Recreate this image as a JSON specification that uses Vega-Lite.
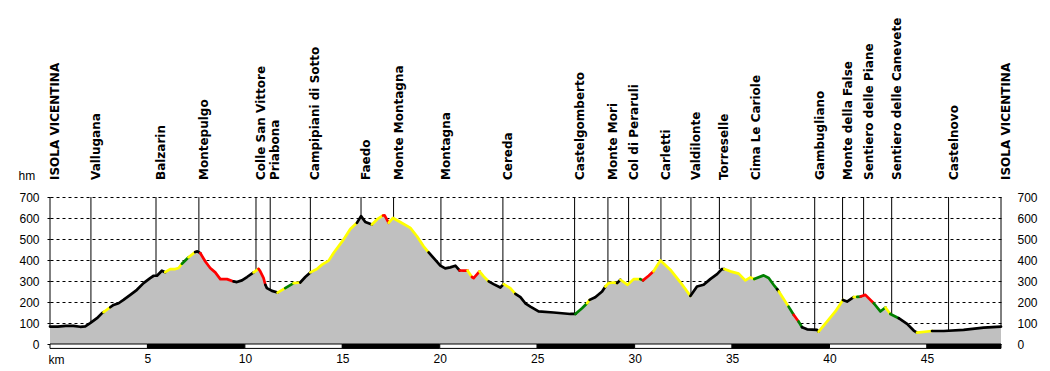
{
"$schema": "https://vega.github.io/schema/vega-lite/v6.json",
"width": 951, "height": 147,
"autosize": {"type": "none"},
"padding": {"left": 50, "top": 197, "right": 49, "bottom": 27},
"background": "white",
"config": {
 "view": {"stroke": null},
 "axisX": {"ticks": false, "domain": false, "grid": false, "labelPadding": 9, "labelFont": "Liberation Sans", "labelFontSize": 12, "labelColor": "black", "titleX": -2, "titleY": 19, "titleAlign": "left", "titleBaseline": "alphabetic", "titleFont": "Liberation Sans", "titleFontSize": 12, "titleFontWeight": "normal", "titleColor": "black"},
 "axisLeft": {"grid": true, "gridDash": [3, 3], "gridColor": "black", "gridOpacity": 1, "gridWidth": 1, "ticks": true, "tickDash": [3, 3], "tickSize": 5, "tickColor": "black", "labelPadding": 6, "labelOverlap": false, "domain": false, "labelFont": "Liberation Sans", "labelFontSize": 12, "labelColor": "black", "titleAngle": 0, "titleX": -32, "titleY": -22, "titleAlign": "left", "titleBaseline": "middle", "titleFont": "Liberation Sans", "titleFontSize": 12, "titleFontWeight": "normal", "titleColor": "black", "zindex": 1},
 "axisRight": {"grid": false, "ticks": false, "tickSize": 0, "domain": false, "labelPadding": 16, "labelOverlap": false, "labelAlign": "left", "labelFont": "Liberation Sans", "labelFontSize": 12, "labelColor": "black"}
},
"datasets": {
 "pts": [
  {"d":0,"h":83,"s":1,"c":"k"},{"d":0.4,"h":83,"s":1,"c":"k"},{"d":0.8,"h":86,"s":1,"c":"k"},{"d":1.2,"h":86,"s":1,"c":"k"},{"d":1.55,"h":82,"s":1,"c":"k"},{"d":1.81,"h":84,"s":1,"c":"k"},{"d":2.06,"h":99,"s":1,"c":"k"},{"d":2.41,"h":123,"s":1,"c":"k"},{"d":2.67,"h":147,"s":1,"c":"k"},{"d":2.75,"h":152,"s":1,"c":"k"},
  {"d":2.75,"h":152,"s":2,"c":"y"},{"d":3.09,"h":175,"s":2,"c":"y"},
  {"d":3.09,"h":175,"s":3,"c":"k"},{"d":3.26,"h":186,"s":3,"c":"k"},{"d":3.52,"h":194,"s":3,"c":"k"},{"d":3.77,"h":210,"s":3,"c":"k"},{"d":4.12,"h":234,"s":3,"c":"k"},{"d":4.46,"h":258,"s":3,"c":"k"},{"d":4.8,"h":290,"s":3,"c":"k"},{"d":5.14,"h":314,"s":3,"c":"k"},{"d":5.32,"h":325,"s":3,"c":"k"},{"d":5.49,"h":325,"s":3,"c":"k"},{"d":5.74,"h":349,"s":3,"c":"k"},{"d":5.91,"h":342,"s":3,"c":"k"},
  {"d":5.91,"h":342,"s":4,"c":"y"},{"d":6.17,"h":357,"s":4,"c":"y"},{"d":6.43,"h":357,"s":4,"c":"y"},{"d":6.6,"h":362,"s":4,"c":"y"},{"d":6.77,"h":382,"s":4,"c":"y"},
  {"d":6.77,"h":382,"s":5,"c":"g"},{"d":7.11,"h":413,"s":5,"c":"g"},
  {"d":7.11,"h":413,"s":6,"c":"y"},{"d":7.45,"h":438,"s":6,"c":"y"},
  {"d":7.45,"h":438,"s":7,"c":"k"},{"d":7.56,"h":441,"s":7,"c":"k"},{"d":7.71,"h":433,"s":7,"c":"k"},
  {"d":7.71,"h":433,"s":8,"c":"r"},{"d":7.97,"h":393,"s":8,"c":"r"},{"d":8.22,"h":362,"s":8,"c":"r"},{"d":8.48,"h":341,"s":8,"c":"r"},{"d":8.74,"h":309,"s":8,"c":"r"},{"d":9.08,"h":309,"s":8,"c":"r"},{"d":9.42,"h":298,"s":8,"c":"r"},
  {"d":9.42,"h":298,"s":9,"c":"k"},{"d":9.59,"h":295,"s":9,"c":"k"},{"d":9.85,"h":303,"s":9,"c":"k"},{"d":10.11,"h":319,"s":9,"c":"k"},{"d":10.45,"h":341,"s":9,"c":"k"},
  {"d":10.45,"h":341,"s":10,"c":"y"},{"d":10.7,"h":358,"s":10,"c":"y"},
  {"d":10.7,"h":358,"s":11,"c":"r"},{"d":10.79,"h":346,"s":11,"c":"r"},{"d":10.96,"h":314,"s":11,"c":"r"},{"d":11.05,"h":282,"s":11,"c":"r"},
  {"d":11.05,"h":282,"s":12,"c":"k"},{"d":11.13,"h":266,"s":12,"c":"k"},{"d":11.39,"h":253,"s":12,"c":"k"},{"d":11.68,"h":245,"s":12,"c":"k"},
  {"d":11.68,"h":245,"s":13,"c":"y"},{"d":12.07,"h":266,"s":13,"c":"y"},
  {"d":12.07,"h":266,"s":14,"c":"g"},{"d":12.5,"h":290,"s":14,"c":"g"},
  {"d":12.5,"h":290,"s":15,"c":"y"},{"d":12.84,"h":293,"s":15,"c":"y"},
  {"d":12.84,"h":293,"s":16,"c":"k"},{"d":13.1,"h":319,"s":16,"c":"k"},{"d":13.36,"h":341,"s":16,"c":"k"},
  {"d":13.36,"h":341,"s":17,"c":"y"},{"d":13.7,"h":357,"s":17,"c":"y"},{"d":13.96,"h":378,"s":17,"c":"y"},{"d":14.3,"h":397,"s":17,"c":"y"},{"d":14.55,"h":433,"s":17,"c":"y"},{"d":15.06,"h":497,"s":17,"c":"y"},{"d":15.41,"h":548,"s":17,"c":"y"},{"d":15.75,"h":577,"s":17,"c":"y"},
  {"d":15.75,"h":577,"s":18,"c":"k"},{"d":15.96,"h":609,"s":18,"c":"k"},{"d":16.18,"h":581,"s":18,"c":"k"},{"d":16.52,"h":569,"s":18,"c":"k"},
  {"d":16.52,"h":569,"s":19,"c":"y"},{"d":16.78,"h":593,"s":19,"c":"y"},{"d":17.09,"h":612,"s":19,"c":"y"},
  {"d":17.09,"h":612,"s":20,"c":"r"},{"d":17.17,"h":613,"s":20,"c":"r"},{"d":17.38,"h":577,"s":20,"c":"r"},
  {"d":17.38,"h":577,"s":21,"c":"y"},{"d":17.6,"h":600,"s":21,"c":"y"},{"d":17.97,"h":581,"s":21,"c":"y"},{"d":18.49,"h":553,"s":21,"c":"y"},{"d":18.83,"h":513,"s":21,"c":"y"},{"d":19.17,"h":465,"s":21,"c":"y"},{"d":19.43,"h":436,"s":21,"c":"y"},
  {"d":19.43,"h":436,"s":22,"c":"k"},{"d":19.77,"h":401,"s":22,"c":"k"},{"d":20.03,"h":373,"s":22,"c":"k"},{"d":20.28,"h":360,"s":22,"c":"k"},{"d":20.54,"h":365,"s":22,"c":"k"},{"d":20.8,"h":373,"s":22,"c":"k"},{"d":21.02,"h":350,"s":22,"c":"k"},
  {"d":21.02,"h":350,"s":23,"c":"r"},{"d":21.22,"h":349,"s":23,"c":"r"},{"d":21.43,"h":349,"s":23,"c":"r"},
  {"d":21.43,"h":349,"s":24,"c":"y"},{"d":21.65,"h":319,"s":24,"c":"y"},
  {"d":21.65,"h":319,"s":25,"c":"r"},{"d":21.74,"h":314,"s":25,"c":"r"},{"d":22.04,"h":346,"s":25,"c":"r"},
  {"d":22.04,"h":346,"s":26,"c":"y"},{"d":22.25,"h":322,"s":26,"c":"y"},{"d":22.51,"h":298,"s":26,"c":"y"},
  {"d":22.51,"h":298,"s":27,"c":"k"},{"d":22.76,"h":285,"s":27,"c":"k"},{"d":23.11,"h":269,"s":27,"c":"k"},{"d":23.28,"h":285,"s":27,"c":"k"},
  {"d":23.28,"h":285,"s":28,"c":"y"},{"d":23.62,"h":266,"s":28,"c":"y"},{"d":23.88,"h":239,"s":28,"c":"y"},
  {"d":23.88,"h":239,"s":29,"c":"k"},{"d":24.14,"h":223,"s":29,"c":"k"},{"d":24.39,"h":194,"s":29,"c":"k"},{"d":24.65,"h":178,"s":29,"c":"k"},{"d":25.07,"h":155,"s":29,"c":"k"},{"d":25.84,"h":150,"s":29,"c":"k"},{"d":26.7,"h":143,"s":29,"c":"k"},{"d":26.96,"h":143,"s":29,"c":"k"},
  {"d":26.96,"h":143,"s":30,"c":"g"},{"d":27.3,"h":170,"s":30,"c":"g"},{"d":27.56,"h":194,"s":30,"c":"g"},
  {"d":27.56,"h":194,"s":31,"c":"y"},{"d":27.69,"h":210,"s":31,"c":"y"},
  {"d":27.69,"h":210,"s":32,"c":"k"},{"d":27.98,"h":223,"s":32,"c":"k"},{"d":28.33,"h":250,"s":32,"c":"k"},{"d":28.5,"h":274,"s":32,"c":"k"},
  {"d":28.5,"h":274,"s":33,"c":"y"},{"d":28.66,"h":290,"s":33,"c":"y"},{"d":28.92,"h":293,"s":33,"c":"y"},{"d":29.1,"h":290,"s":33,"c":"y"},
  {"d":29.1,"h":290,"s":34,"c":"k"},{"d":29.27,"h":306,"s":34,"c":"k"},
  {"d":29.27,"h":306,"s":35,"c":"y"},{"d":29.64,"h":282,"s":35,"c":"y"},{"d":29.95,"h":309,"s":35,"c":"y"},{"d":30.29,"h":309,"s":35,"c":"y"},
  {"d":30.29,"h":309,"s":36,"c":"g"},{"d":30.43,"h":303,"s":36,"c":"g"},
  {"d":30.43,"h":303,"s":37,"c":"r"},{"d":30.72,"h":325,"s":37,"c":"r"},{"d":30.97,"h":346,"s":37,"c":"r"},
  {"d":30.97,"h":346,"s":38,"c":"y"},{"d":31.32,"h":398,"s":38,"c":"y"},{"d":31.83,"h":354,"s":38,"c":"y"},{"d":32.34,"h":295,"s":38,"c":"y"},{"d":32.86,"h":229,"s":38,"c":"y"},
  {"d":32.86,"h":229,"s":39,"c":"k"},{"d":33.2,"h":274,"s":39,"c":"k"},{"d":33.54,"h":282,"s":39,"c":"k"},{"d":33.88,"h":309,"s":39,"c":"k"},{"d":34.23,"h":333,"s":39,"c":"k"},{"d":34.48,"h":357,"s":39,"c":"k"},{"d":34.6,"h":357,"s":39,"c":"k"},
  {"d":34.6,"h":357,"s":40,"c":"y"},{"d":34.91,"h":346,"s":40,"c":"y"},{"d":35.34,"h":335,"s":40,"c":"y"},{"d":35.68,"h":303,"s":40,"c":"y"},{"d":35.94,"h":317,"s":40,"c":"y"},{"d":36.14,"h":309,"s":40,"c":"y"},
  {"d":36.14,"h":309,"s":41,"c":"g"},{"d":36.62,"h":327,"s":41,"c":"g"},{"d":36.88,"h":314,"s":41,"c":"g"},{"d":37.13,"h":282,"s":41,"c":"g"},{"d":37.31,"h":261,"s":41,"c":"g"},
  {"d":37.31,"h":261,"s":42,"c":"k"},{"d":37.4,"h":250,"s":42,"c":"k"},
  {"d":37.4,"h":250,"s":43,"c":"y"},{"d":37.9,"h":178,"s":43,"c":"y"},
  {"d":37.9,"h":178,"s":44,"c":"g"},{"d":38.16,"h":139,"s":44,"c":"g"},
  {"d":38.16,"h":139,"s":45,"c":"r"},{"d":38.41,"h":107,"s":45,"c":"r"},
  {"d":38.41,"h":107,"s":46,"c":"g"},{"d":38.59,"h":80,"s":46,"c":"g"},
  {"d":38.59,"h":80,"s":47,"c":"k"},{"d":38.85,"h":70,"s":47,"c":"k"},{"d":39.36,"h":67,"s":47,"c":"k"},{"d":39.44,"h":59,"s":47,"c":"k"},
  {"d":39.44,"h":59,"s":48,"c":"y"},{"d":39.87,"h":107,"s":48,"c":"y"},{"d":40.3,"h":155,"s":48,"c":"y"},{"d":40.69,"h":210,"s":48,"c":"y"},
  {"d":40.69,"h":210,"s":49,"c":"k"},{"d":40.9,"h":202,"s":49,"c":"k"},{"d":41.24,"h":223,"s":49,"c":"k"},
  {"d":41.24,"h":223,"s":50,"c":"y"},{"d":41.42,"h":224,"s":50,"c":"y"},
  {"d":41.42,"h":224,"s":51,"c":"g"},{"d":41.6,"h":226,"s":51,"c":"g"},
  {"d":41.6,"h":226,"s":52,"c":"r"},{"d":41.84,"h":234,"s":52,"c":"r"},{"d":42.27,"h":194,"s":52,"c":"r"},
  {"d":42.27,"h":194,"s":53,"c":"g"},{"d":42.61,"h":155,"s":53,"c":"g"},{"d":42.87,"h":174,"s":53,"c":"g"},
  {"d":42.87,"h":174,"s":54,"c":"y"},{"d":43.12,"h":143,"s":54,"c":"y"},
  {"d":43.12,"h":143,"s":55,"c":"g"},{"d":43.55,"h":123,"s":55,"c":"g"},
  {"d":43.55,"h":123,"s":56,"c":"k"},{"d":43.98,"h":96,"s":56,"c":"k"},{"d":44.32,"h":64,"s":56,"c":"k"},{"d":44.49,"h":54,"s":56,"c":"k"},
  {"d":44.49,"h":54,"s":57,"c":"y"},{"d":45.26,"h":62,"s":57,"c":"y"},
  {"d":45.26,"h":62,"s":58,"c":"k"},{"d":45.86,"h":62,"s":58,"c":"k"},{"d":46.88,"h":67,"s":58,"c":"k"},{"d":47.91,"h":78,"s":58,"c":"k"},{"d":48.8,"h":83,"s":58,"c":"k"}
 ],
 "places": [
  {"n":"ISOLA VICENTINA","d":0,"h":83},
  {"n":"Vallugana","d":2.1,"h":102},
  {"n":"Balzarin","d":5.44,"h":325},
  {"n":"Montepulgo","d":7.64,"h":438},
  {"n":"Colle San Vittore","d":10.57,"h":352},
  {"n":"Priabona","d":11.3,"h":256},
  {"n":"Campipiani di Sotto","d":13.36,"h":341},
  {"n":"Faedo","d":15.96,"h":609},
  {"n":"Monte Montagna","d":17.63,"h":598},
  {"n":"Montagna","d":20.06,"h":372},
  {"n":"Cereda","d":23.24,"h":281},
  {"n":"Castelgomberto","d":26.92,"h":143},
  {"n":"Monte Mori","d":28.63,"h":288},
  {"n":"Col di Peraruli","d":29.69,"h":290},
  {"n":"Carletti","d":31.35,"h":396},
  {"n":"Valdilonte","d":32.89,"h":232},
  {"n":"Torreselle","d":34.35,"h":357},
  {"n":"Cima Le Cariole","d":35.97,"h":316},
  {"n":"Gambugliano","d":39.24,"h":67},
  {"n":"Monte della False","d":40.67,"h":208},
  {"n":"Sentiero delle Piane","d":41.75,"h":231},
  {"n":"Sentiero delle Canevete","d":43.19,"h":140},
  {"n":"Castelnovo","d":46.11,"h":64},
  {"n":"ISOLA VICENTINA","d":48.8,"h":83}
 ],
 "bar": [
  {"a":0,"b":5,"t":"w"},{"a":5,"b":10,"t":"b"},{"a":10,"b":15,"t":"w"},{"a":15,"b":20,"t":"b"},{"a":20,"b":25,"t":"w"},
  {"a":25,"b":30,"t":"b"},{"a":30,"b":35,"t":"w"},{"a":35,"b":40,"t":"b"},{"a":40,"b":45,"t":"w"},{"a":45,"b":48.8,"t":"b"}
 ]
},
"resolve": {"axis": {"y": "independent"}},
"layer": [
 {
  "layer": [
   {
    "data": {"name": "pts"},
    "mark": {"type": "area", "color": "#C0C0C0", "opacity": 1},
    "encoding": {
     "x": {"field": "d", "type": "quantitative", "title": "km", "scale": {"domain": [0, 48.8], "nice": false, "zero": false}, "axis": {"values": [5,10,15,20,25,30,35,40,45]}},
     "y": {"field": "h", "type": "quantitative", "stack": null, "scale": {"domain": [0, 700], "nice": false}, "axis": {"orient": "left", "title": "hm", "values": [0,100,200,300,400,500,600,700]}}
    }
   },
   {
    "data": {"name": "places"},
    "mark": {"type": "rule", "color": "black", "strokeWidth": 1},
    "encoding": {
     "x": {"field": "d", "type": "quantitative", "title": "km", "axis": {"values": [5,10,15,20,25,30,35,40,45]}},
     "y": {"field": "h", "type": "quantitative", "axis": {"orient": "left", "title": "hm", "values": [0,100,200,300,400,500,600,700]}},
     "y2": {"datum": 700}
    }
   },
   {
    "data": {"name": "places"},
    "mark": {"type": "text", "angle": 270, "align": "left", "baseline": "top", "dx": 17, "font": "DejaVu Sans", "fontWeight": "bold", "fontSize": 12, "color": "black"},
    "encoding": {
     "x": {"field": "d", "type": "quantitative", "title": "km", "axis": {"values": [5,10,15,20,25,30,35,40,45]}},
     "y": {"datum": 700, "type": "quantitative", "axis": {"orient": "left", "title": "hm", "values": [0,100,200,300,400,500,600,700]}},
     "text": {"field": "n"}
    }
   },
   {
    "data": {"name": "bar"},
    "mark": {"type": "rect", "stroke": "black", "strokeWidth": 1},
    "encoding": {
     "x": {"field": "a", "type": "quantitative", "title": "km", "axis": {"values": [5,10,15,20,25,30,35,40,45]}},
     "x2": {"field": "b"},
     "y": {"datum": 0, "type": "quantitative", "axis": {"orient": "left", "title": "hm", "values": [0,100,200,300,400,500,600,700]}},
     "y2": {"datum": -21},
     "fill": {"field": "t", "type": "nominal", "scale": {"domain": ["w","b"], "range": ["white","black"]}, "legend": null}
    }
   }
  ]
 },
 {
  "data": {"name": "pts"},
  "mark": {"type": "line", "strokeWidth": 2.7, "strokeCap": "round", "strokeJoin": "round"},
  "encoding": {
   "x": {"field": "d", "type": "quantitative", "title": "km", "axis": {"values": [5,10,15,20,25,30,35,40,45]}},
   "y": {"field": "h", "type": "quantitative", "axis": {"orient": "right", "title": null, "values": [0,100,200,300,400,500,600,700]}},
   "color": {"field": "c", "type": "nominal", "scale": {"domain": ["k","y","r","g"], "range": ["#000000","#FFFF00","#FF0000","#008000"]}, "legend": null},
   "detail": {"field": "s", "type": "nominal"}
  }
 }
]
}
